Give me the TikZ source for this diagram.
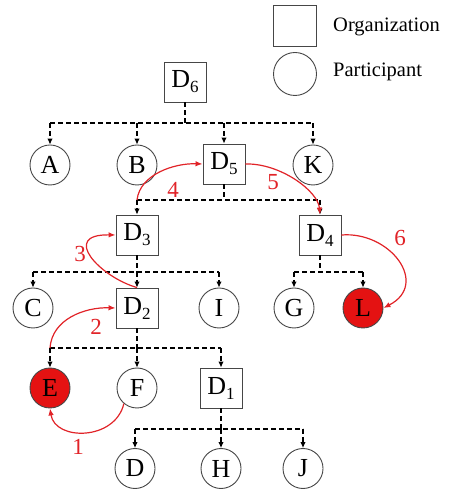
\documentclass[tikz,border=0pt]{standalone}
\usepackage{fontspec}
\setmainfont{Liberation Serif}
\usetikzlibrary{arrows.meta}
\definecolor{hotred}{RGB}{228,18,18}
\definecolor{flowred}{RGB}{225,35,40}
\definecolor{edgegray}{RGB}{70,70,70}
\newcommand{\dsub}[1]{D\raisebox{-5pt}{\fontsize{17}{17}\selectfont #1}}
\begin{document}
\begin{tikzpicture}[x=1pt,y=1pt,
 org/.style={draw=edgegray, line width=0.9pt, minimum width=42pt, minimum height=40pt, inner sep=0pt, font=\fontsize{26}{26}\selectfont},
 part/.style={circle, draw=edgegray, line width=0.9pt, minimum size=40pt, inner sep=0pt, font=\fontsize{26}{26}\selectfont},
 hit/.style={part, fill=hotred},
 bus/.style={dash pattern=on 5pt off 3pt, line width=1.1pt, black},
 drop/.style={bus, -{Latex[length=6pt,width=5.5pt]}},
 flow/.style={draw=flowred, line width=1.2pt, -{Latex[length=7pt,width=5.5pt]}},
 num/.style={text=flowred, font=\fontsize{23}{23}\selectfont, inner sep=0pt},
 legtext/.style={anchor=west, inner sep=0pt, font=\fontsize{20.5}{20.5}\selectfont}
]
\useasboundingbox (0,0) rectangle (449,489);
% legend
\node[org, minimum width=43pt, minimum height=41pt] (lorg) at (294.5,463.5) {};
\node[part, minimum size=43pt] (lpart) at (295,415) {};
\node[legtext] (torg) at (333,462) {Organization};
\node[legtext] (tpart) at (333,417) {Participant};
% nodes
\node[org] (D6) at (185,407) {\dsub{6}};
\node[part] (A) at (50,324) {A};
\node[part] (B) at (137,324) {B};
\node[org] (D5) at (224,325) {\dsub{5}};
\node[part] (K) at (313,324) {K};
\node[org] (D3) at (137,254) {\dsub{3}};
\node[org] (D4) at (320,254) {\dsub{4}};
\node[part] (C) at (33,181) {C};
\node[org] (D2) at (137,181) {\dsub{2}};
\node[part] (I) at (219,181) {I};
\node[part] (G) at (294,181) {G};
\node[hit] (L) at (363,181) {L};
\node[hit] (E) at (50,101) {E};
\node[part] (F) at (137,101) {F};
\node[org] (D1) at (221,101) {\dsub{1}};
\node[part] (D) at (135,20.5) {D};
\node[part] (H) at (221,20.5) {H};
\node[part] (J) at (303,20.5) {J};
% bus coordinates
\coordinate (b6) at (185,366);
\coordinate (b6A) at (50,366);
\coordinate (b6B) at (137,366);
\coordinate (b6D) at (224,366);
\coordinate (b6K) at (313,366);
\coordinate (b5) at (224,289);
\coordinate (b5L) at (137,289);
\coordinate (b5R) at (320,289);
\coordinate (b3) at (137,217);
\coordinate (b3C) at (33,217);
\coordinate (b3I) at (219,217);
\coordinate (b4) at (320,217);
\coordinate (b4G) at (294,217);
\coordinate (b4L) at (363,217);
\coordinate (b2) at (137,141);
\coordinate (b2E) at (50,141);
\coordinate (b2D) at (221,141);
\coordinate (b1) at (221,60);
\coordinate (b1D) at (135,60);
\coordinate (b1J) at (303,60);
% dashed hierarchy
\draw[bus] (D6.south) -- (b6);
\draw[bus] (b6A) -- (b6K);
\draw[drop] (b6A) -- (A.north);
\draw[drop] (b6B) -- (B.north);
\draw[drop] (b6D) -- (D5.north);
\draw[drop] (b6K) -- (K.north);
\draw[bus] (D5.south) -- (b5);
\draw[bus] (b5L) -- (b5R);
\draw[drop] (b5L) -- (D3.north);
\draw[drop] (b5R) -- (D4.north);
\draw[bus] (D3.south) -- (b3);
\draw[bus] (b3C) -- (b3I);
\draw[drop] (b3C) -- (C.north);
\draw[drop] (b3) -- (D2.north);
\draw[drop] (b3I) -- (I.north);
\draw[bus] (D4.south) -- (b4);
\draw[bus] (b4G) -- (b4L);
\draw[drop] (b4G) -- (G.north);
\draw[drop] (b4L) -- (L.north);
\draw[bus] (D2.south) -- (b2);
\draw[bus] (b2E) -- (b2D);
\draw[drop] (b2E) -- (E.north);
\draw[drop] (b2) -- (F.north);
\draw[drop] (b2D) -- (D1.north);
\draw[bus] (D1.south) -- (b1);
\draw[bus] (b1D) -- (b1J);
\draw[drop] (b1D) -- (D.north);
\draw[drop] (b1) -- (H.north);
\draw[drop] (b1J) -- (J.north);
% red flow
\draw[flow] (F.-130) .. controls (115,48) and (55,48) .. (E.south);
\draw[flow] (b2E) .. controls (52,170) and (85,182) .. (D2.west);
\draw[flow] (D2.north) .. controls (100,212) and (60,255) .. (D3.west);
\draw[flow] (b5L) .. controls (140,315) and (175,326) .. (D5.west);
\draw[flow] (D5.east) .. controls (280,326) and (318,298) .. (D4.north);
\draw[flow] (D4.east) .. controls (390,258) and (430,205) .. (L.east);
% labels
\node[num] (n1) at (78,42) {1};
\node[num] (n2) at (96,162) {2};
\node[num] (n3) at (80,235) {3};
\node[num] (n4) at (173,299) {4};
\node[num] (n5) at (273,307) {5};
\node[num] (n6) at (400,251) {6};
\end{tikzpicture}
\end{document}
